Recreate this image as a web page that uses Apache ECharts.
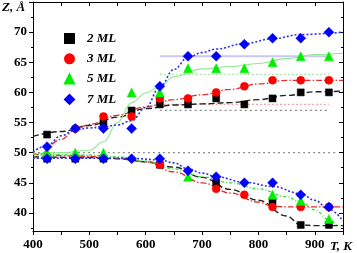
<!DOCTYPE html>
<html><head><meta charset="utf-8">
<script src="https://cdn.jsdelivr.net/npm/echarts@6/dist/echarts.min.js"></script>
<style>html,body{margin:0;padding:0;background:#fff}#c{width:357px;height:253px}</style>
</head><body><div id="c"></div>
<script>
// ---- data ----
const seriesNames = ['2 ML', '3 ML', '5 ML', '7 ML'];
const xTickLabels = [400, 500, 600, 700, 800, 900];
const yTickLabels = [40, 45, 50, 55, 60, 65, 70];
const yMajorTicks = [40, 45, 50, 55, 60, 65, 70, 75];
const yMinorTicks = [37.5, 42.5, 47.5, 52.5, 57.5, 62.5, 67.5, 72.5];

// measured points [T, Z]
const ml2Points = [[425,53],[525,55],[575,57],[625,58],[675,58],[725,59],[775,58],[825,59],[875,60],[925,60],
                   [425,49],[475,49],[525,49],[625,48],[725,45],[825,42],[875,38],[925,38]];
const ml3Points = [[475,54],[525,56],[575,56],[625,59],[675,59],[725,60],[775,61],[825,62],[875,62],[925,62],
                   [625,48],[725,44],[775,43],[825,41],[875,41],[925,41]];
const ml5Points = [[425,50],[475,50],[525,50],[575,60],[625,60],[675,64],[725,64],[775,64],[825,65],[875,66],[925,66],
                   [675,46],[825,43],[875,42],[925,39]];
const ml7Points = [[425,51],[475,54],[525,54],[575,54],[625,61],[675,66],[725,66],[775,68],[825,69],[875,69],[925,70],
                   [425,49],[475,49],[525,49],[575,49],[625,49],[675,47],[725,46],[775,45],[825,45],[875,43],[925,41]];

// fitted curves [T, Z]
const ml2FitUpper = [[400,52.7],[450,53.5],[500,54.5],[550,55.9],[600,57.3],[650,57.9],[700,58.1],[750,58.3],[800,58.8],[850,59.5],[900,60.1],[950,60.2]];
const ml2FitLower = [[400,49.3],[500,49.2],[550,49],[600,48.5],[650,47.6],[700,45.9],[750,43.9],[800,42.1],[850,39.5],[875,38],[900,37.9],[950,37.9]];
const ml3FitUpper = [[420,50],[450,52.2],[475,53.8],[500,54.7],[550,56.2],[600,57.6],[650,58.8],[700,59.6],[750,60.5],[800,61.4],[850,62],[950,62]];
const ml3FitLower = [[400,49.7],[500,49.4],[550,49.1],[600,48.5],[650,46.8],[700,45],[750,43.3],[800,41.8],[825,41.1],[850,41],[950,41]];
const ml5FitUpper = [[400,49.8],[450,50],[500,50.4],[525,51.8],[550,55],[575,58.3],[600,59.9],[625,61],[650,62.6],[700,63.9],[750,64.3],[800,64.8],[850,65.6],[900,66.3],[950,66.5]];
const ml5FitLower = [[400,49.8],[500,49.6],[550,49.3],[600,48.6],[650,47.3],[700,46],[750,45],[800,44],[850,42.7],[875,41.8],[900,40.5],[925,38.9],[940,37.8]];
const ml7FitUpper = [[400,50.1],[425,51.2],[450,52.8],[475,53.8],[500,54.1],[525,54.3],[550,54.6],[575,55.3],[600,57.5],[625,60.9],[650,63.8],[675,65.8],[700,66.6],[725,67.2],[775,68.1],[825,68.9],[875,69.6],[950,70]];
const ml7FitLower = [[400,49.1],[500,49.1],[575,49.05],[625,48.8],[650,48.3],[675,47.3],[700,46.6],[725,46],[775,45.1],[825,44.4],[875,43.2],[900,42.1],[925,40.6],[950,38.7]];

// horizontal reference levels [T, Z]
const refLine50 = [[400,50],[940,50]];
const refLine7 = [[625,66],[925,66]];
const refLine5 = [[625,63],[925,63]];
const refLine3 = [[625,58],[925,58]];
const refLine2 = [[625,57],[925,57]];

// ---- chart ----
const chart = echarts.init(document.getElementById('c'), null, {renderer: 'canvas'});
const labelFont = {fontFamily: 'Liberation Serif', fontWeight: 'bold', fontSize: 13, color: '#000'};
const axisLine = {show: true, lineStyle: {color: '#000', width: 1}};

function fit(data, color, type, width) {
  return {type: 'line', data: data, showSymbol: false, symbol: 'none', smooth: 0.4, smoothMonotone: 'x',
          lineStyle: {color: color, type: type, width: width || 1.3}, silent: true, z: 2};
}
function pts(name, data, symbol, size, color) {
  return {type: 'scatter', name: name, data: data, symbol: symbol, symbolSize: size,
          itemStyle: {color: color, borderColor: color, borderWidth: 0.5, opacity: 1}, z: 5};
}

chart.setOption({
  animation: false,
  backgroundColor: '#fff',
  grid: {left: 33, right: 14, top: 2, bottom: 22},
  xAxis: [
    {type: 'value', position: 'bottom', min: 400, max: 950, interval: 50,
     axisLine: axisLine, splitLine: {show: false},
     axisTick: {show: true, length: 4, lineStyle: {color: '#000'}},
     axisLabel: Object.assign({margin: 7, showMaxLabel: true,
       formatter: v => xTickLabels.includes(v) ? String(v) : ''}, labelFont)},
    {type: 'value', position: 'top', min: 400, max: 950, interval: 50,
     axisLine: axisLine, splitLine: {show: false},
     axisTick: {show: true, inside: true, length: 4, lineStyle: {color: '#000'}},
     axisLabel: {show: false}}
  ],
  yAxis: [
    {type: 'value', position: 'left', min: 37, max: 75, axisLine: axisLine, splitLine: {show: false},
     axisTick: {show: true, length: 4, customValues: yMajorTicks, lineStyle: {color: '#000'}},
     axisLabel: Object.assign({margin: 6, customValues: yTickLabels}, labelFont)},
    {type: 'value', position: 'left', min: 37, max: 75, axisLine: {show: false}, splitLine: {show: false},
     axisTick: {show: true, length: 2, customValues: yMinorTicks, lineStyle: {color: '#000'}},
     axisLabel: {show: false}},
    {type: 'value', position: 'right', min: 37, max: 75, axisLine: axisLine, splitLine: {show: false},
     axisTick: {show: true, inside: true, length: 4, customValues: yMajorTicks, lineStyle: {color: '#000'}},
     axisLabel: {show: false}},
    {type: 'value', position: 'right', min: 37, max: 75, axisLine: {show: false}, splitLine: {show: false},
     axisTick: {show: true, inside: true, length: 2, customValues: yMinorTicks, lineStyle: {color: '#000'}},
     axisLabel: {show: false}}
  ],
  legend: {
    data: seriesNames, orient: 'vertical', left: 59, top: 27,
    itemWidth: 9, itemHeight: 9, itemGap: 7.3,
    textStyle: {fontFamily: 'Liberation Serif', fontWeight: 'bold', fontStyle: 'italic', fontSize: 13, color: '#000', padding: [0,0,0,8]},
    selectedMode: false
  },
  graphic: [
    {type: 'text', left: 2, top: 1, style: {text: 'Z, Å', font: 'italic bold 13px "Liberation Serif"', fill: '#000'}},
    {type: 'text', left: 330, top: 240, style: {text: 'T, K', font: 'italic bold 13px "Liberation Serif"', fill: '#000'}}
  ],
  series: [
    fit(refLine50, '#8c8c8c', [2, 3], 1.3),
    fit(refLine7, '#c8c8f0', 'solid', 2),
    fit(refLine5, '#a8eca8', [2, 2], 1.3),
    fit(refLine3, '#f0a8a8', [2, 2], 1.3),
    fit(refLine2, '#8c8c8c', [2, 3], 1.3),
    fit(ml2FitUpper, '#222', [6, 3], 1.4),
    fit(ml2FitLower, '#222', [6, 3], 1.4),
    fit(ml3FitUpper, '#e03030', [6, 2, 1.5, 2], 1.3),
    fit(ml3FitLower, '#e03030', [6, 2, 1.5, 2], 1.3),
    fit(ml5FitUpper, '#8ee88e', 'solid', 1.1),
    fit(ml5FitLower, '#33dd33', [3, 2, 1, 2], 1.3),
    fit(ml7FitUpper, '#3333dd', [2, 2], 1.6),
    fit(ml7FitLower, '#3333dd', [2, 2], 1.6),
    pts('2 ML', ml2Points, 'rect', 7, '#000'),
    pts('3 ML', ml3Points, 'circle', 8, '#ff0000'),
    pts('5 ML', ml5Points, 'triangle', 9, '#00ee00'),
    pts('7 ML', ml7Points, 'diamond', 10, '#0000ff')
  ]
});
</script>
</body></html>
